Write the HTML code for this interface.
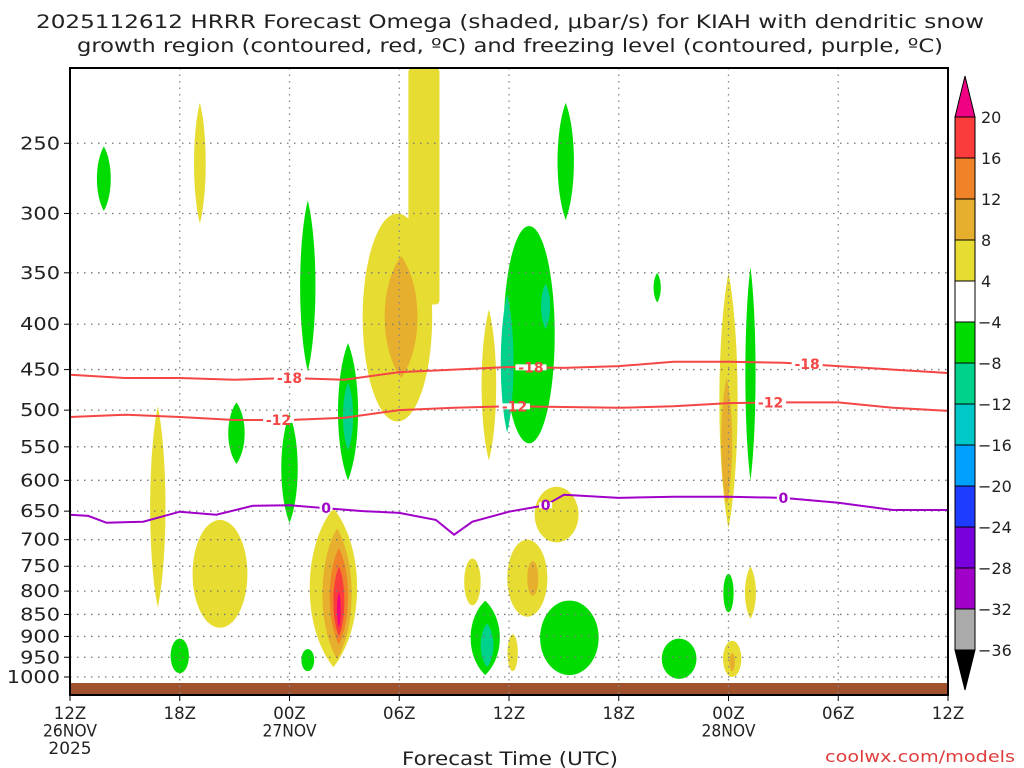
<!DOCTYPE html>
<html><head><meta charset="utf-8"><style>
body{margin:0;background:#fff;}
svg{display:block;font-family:"DejaVu Sans","Liberation Sans",sans-serif;}
</style></head><body>
<svg id="chart" width="1024" height="768">
<text x="510" y="28" text-anchor="middle" font-size="19" fill="#222" textLength="948" lengthAdjust="spacingAndGlyphs">2025112612 HRRR Forecast Omega (shaded, μbar/s) for KIAH with dendritic snow</text>
<text x="510" y="52" text-anchor="middle" font-size="19" fill="#222" textLength="866" lengthAdjust="spacingAndGlyphs">growth region (contoured, red, ºC) and freezing level (contoured, purple, ºC)</text>
<g id="shades"></g>
<rect x="70" y="683" width="878" height="12" fill="#a0522d"/>
<g id="grid"></g>
<g id="contours"></g>
<rect x="70" y="68" width="878" height="627" fill="none" stroke="#000" stroke-width="2"/>
<g id="axes"></g>
<text x="510" y="765" text-anchor="middle" font-size="19" fill="#222" textLength="216" lengthAdjust="spacingAndGlyphs">Forecast Time (UTC)</text>
<text x="1015" y="762" text-anchor="end" font-size="16" fill="#e03c3c" textLength="190" lengthAdjust="spacingAndGlyphs">coolwx.com/models</text>
<g id="cbar"></g>
</svg>
<script>
const pressureTicks=[250,300,350,400,450,500,550,600,650,700,750,800,850,900,950,1000];
const timeTicks=[0,6,12,18,24,30,36,42,48];
const timeLabels=[["12Z","26NOV","2025"],["18Z"],["00Z","27NOV"],["06Z"],["12Z"],["18Z"],["00Z","28NOV"],["06Z"],["12Z"]];
const cbarLevels=["20","16","12","8","4","−4","−8","−12","−16","−20","−24","−28","−32","−36"];
const cbarColors=["#fa3c3c","#f08228","#e6af2d","#e6dc32","#ffffff","#00dc00","#00d28c","#00c8c8","#00a0ff","#1e3cff","#7800dc","#a000c8","#aaaaaa"];
// blob fields: centre hour, half-width hours, top p, bottom p, colour key, shape
const blobHours=[1.85,7.1,4.8,8.2,6.0,9.1,12.0,13.0,15.2,15.2,13.0,14.4,14.6,14.7,14.7,14.7,19.35,17.9,18.1,22.9,25.1,23.9,26.0,27.1,26.6,25.0,25.3,22.0,22.7,22.8,24.2,27.3,33.3,32.1,36.0,35.9,37.2,36.0,37.2,36.2,36.2];
const blobHalfW=[0.38,0.32,0.42,1.5,0.5,0.45,0.45,0.42,0.55,0.28,0.35,1.3,0.8,0.5,0.3,0.1,0.85,1.9,0.9,0.4,1.4,0.35,0.25,0.45,1.2,1.1,0.3,0.45,0.8,0.35,0.28,1.6,0.95,0.2,0.5,0.3,0.28,0.28,0.3,0.5,0.15];
const blobTop=[252,225,495,665,905,490,505,290,420,465,930,645,680,715,750,800,200,300,335,385,310,370,360,225,610,700,740,735,820,870,895,820,905,350,350,460,345,765,750,910,940];
const blobBot=[298,308,835,880,990,575,670,452,600,555,985,975,955,920,900,880,380,515,460,570,545,530,405,305,705,855,810,830,995,975,985,995,1005,378,680,640,600,845,860,1000,985];
const blobColor=["g","y","y","y","g","g","g","g","g","tg","g","y","o1","o2","r","m","y","y","o1","y","g","tg","tg","g","y","y","o1","y","g","tg","y","g","g","g","y","o1","g","g","y","y","o1"];
const blobShape=["l","l","l","e","e","l","l","l","l","l","e","l","l","l","l","l","rect","e","l","l","e","l","l","l","e","e","e","e","l","l","e","e","e","l","l","l","l","e","l","e","e"];
const iso18Hours=[0,3,6,9,12,15,18,21,24,27,30,33,36,39,42,45,48];
const iso18P=[456,460,460,462,460,462,453,450,447,448,446,441,441,442,446,450,454];
const iso12P=[509,506,509,513,513,510,500,497,495,496,497,495,491,490,490,497,501];
const iso0Hours=[0,1,2,4,6,8,10,12,14,16,18,20,21,22,24,26,27,30,33,36,39,42,45,48];
const iso0P=[656,658,670,668,651,656,641,640,645,650,653,665,691,668,651,640,623,628,626,626,628,636,648,648];

const NS="http://www.w3.org/2000/svg";
const X=h=>70+h*878/48;
const Y=p=>677-385*Math.log(1000/p);
const colors={g:"#00dc00",tg:"#00d28c",y:"#e6dc32",o1:"#e6af2d",o2:"#f08228",r:"#fa3c3c",m:"#f00082"};
function mk(tag,attrs,parent){const e=document.createElementNS(NS,tag);for(const k in attrs)e.setAttribute(k,attrs[k]);parent.appendChild(e);return e;}
const shades=document.getElementById('shades');
blobHours.forEach((h,i)=>{
  const cx=X(h),rx=blobHalfW[i]*878/48,y1=Math.max(68,Y(blobTop[i])),y2=Math.min(695,Y(blobBot[i]));
  let el;const f=colors[blobColor[i]];
  if(blobShape[i]==="rect"){el=mk('rect',{x:cx-rx,y:y1,width:2*rx,height:y2-y1,rx:4,fill:f},shades);}
  else if(blobShape[i]==="l"){
    const hh=y2-y1,c=rx*1.33;
    const d=`M${cx},${y1} C${cx+c},${y1+hh*0.25} ${cx+c},${y2-hh*0.25} ${cx},${y2} C${cx-c},${y2-hh*0.25} ${cx-c},${y1+hh*0.25} ${cx},${y1}Z`;
    el=mk('path',{d:d,fill:f},shades);
  }
  else{el=mk('ellipse',{cx:cx,cy:(y1+y2)/2,rx:rx,ry:(y2-y1)/2,fill:f},shades);}
  
  
});
const grid=document.getElementById('grid'),axes=document.getElementById('axes');
pressureTicks.forEach((p,i)=>{
  const y=Y(p);
  const l=mk('line',{x1:70,x2:948,y1:y,y2:y,stroke:"#777","stroke-dasharray":"1.5 5.5","stroke-width":1.3},grid);
  
  
  const t=mk('line',{x1:64,x2:70,y1:y,y2:y,stroke:"#000"},axes);
  
  
  const s=String(p);
  const tx=mk('text',{x:60,y:y+6,"text-anchor":"end","font-size":18,fill:"#222",textLength:s.length*13.3,lengthAdjust:"spacingAndGlyphs"},axes);
  tx.textContent=s;
  
  
});
timeTicks.forEach((h,i)=>{
  const x=X(h);
  if(i>0&&i<timeTicks.length-1){const l=mk('line',{x1:x,x2:x,y1:68,y2:695,stroke:"#888","stroke-dasharray":"1.5 5","stroke-width":1.3},grid);
  
  }
  const t=mk('line',{x1:x,x2:x,y1:695,y2:701,stroke:"#000"},axes);
  
  
  timeLabels[i].forEach((s,j)=>{
    const tx=mk('text',{x:x,y:719+j*17.5,"text-anchor":"middle","font-size":17,fill:"#222",textLength:s.length*10.8,lengthAdjust:"spacingAndGlyphs"},axes);
    tx.textContent=s;
    
    
  });
});
const cont=document.getElementById('contours');
function drawIso(hours,ps,color,label,labelHours,name){
  const d=hours.map((h,i)=>(i?"L":"M")+X(h).toFixed(1)+","+Y(ps[i]).toFixed(1)).join(" ");
  const p=mk('path',{d:d,fill:"none",stroke:color,"stroke-width":2},cont);
  
  
  labelHours.forEach(lh=>{
    let k=0;while(k<hours.length-2&&hours[k+1]<lh)k++;
    const f=(lh-hours[k])/(hours[k+1]-hours[k]);const pp=ps[k]+f*(ps[k+1]-ps[k]);
    const w=label.length*9+4;
    mk('rect',{x:X(lh)-w/2,y:Y(pp)-3,width:w,height:6,fill:"#fff"},cont);
    const t=mk('text',{x:X(lh),y:Y(pp)+5,"text-anchor":"middle","font-size":14,"font-weight":"bold",fill:color},cont);
    t.textContent=label;
    
    
  });
}
drawIso(iso18Hours,iso18P,"#f54646","-18",[12,25.2,40.3],"isotherm-minus18");
drawIso(iso18Hours,iso12P,"#f54646","-12",[11.4,24.3,38.3],"isotherm-minus12");
drawIso(iso0Hours,iso0P,"#a000c8","0",[14,26,39],"freezing-level");
const cb=document.getElementById('cbar');
const bx=955,bw=20,btop=117,bh=41;
const up=mk('polygon',{points:`${bx},${btop} ${bx+bw},${btop} ${bx+bw/2},76`,fill:"#f00082",stroke:"#000"},cb);


cbarColors.forEach((c,i)=>{
  const r=mk('rect',{x:bx,y:btop+i*bh,width:bw,height:bh,fill:c,stroke:"#000","stroke-width":1},cb);
  
  
});
const bend=btop+cbarColors.length*bh;
const dn=mk('polygon',{points:`${bx},${bend} ${bx+bw},${bend} ${bx+bw/2},690`,fill:"#000",stroke:"#000"},cb);


cbarLevels.forEach((s,i)=>{
  const t=mk('text',{x:s[0]==="−"?978:981,y:btop+i*bh+6,"font-size":16,fill:"#222"},cb);
  t.textContent=s;
  
  
});
</script>
</body></html>
